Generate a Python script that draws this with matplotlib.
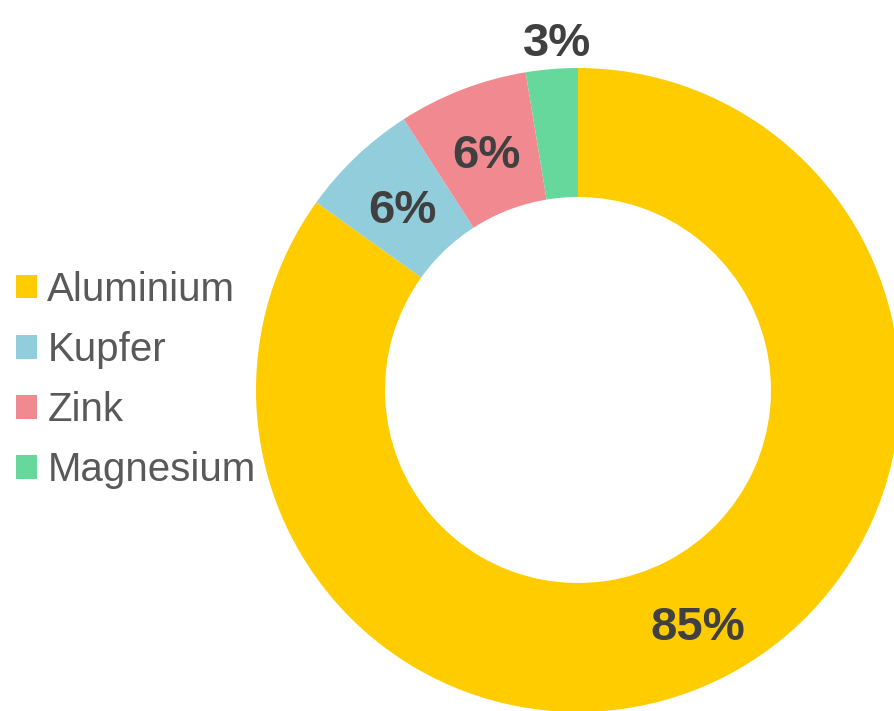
import numpy as np
import matplotlib.pyplot as plt
from matplotlib.patches import Patch

plt.rcParams['font.family'] = ['Liberation Sans', 'DejaVu Sans']

categories = ["Aluminium", "Kupfer", "Zink", "Magnesium"]
values = [84.9, 6.0, 6.5, 2.6]
value_labels = ["85%", "6%", "6%", "3%"]
colors = ["#FFCC00", "#92CDDC", "#F08A90", "#66D89C"]

fig = plt.figure(figsize=(8.94, 7.11), dpi=100)
ax = fig.add_axes([0, 0, 1, 1])

# pixel-like data coordinates so the ring can run off the canvas like the original
R = 322
cx, cy = 578, 711 - 390
wedges, _ = ax.pie(values, colors=colors, startangle=90, counterclock=False,
                   radius=R, center=(cx, cy),
                   wedgeprops=dict(width=R - 193, linewidth=0))
ax.set_xlim(0, 894)
ax.set_ylim(0, 711)
ax.set_aspect("equal")
ax.axis("off")

# label distances (fraction of radius); the small slice gets its label outside
dists = [0.815, 0.79, 0.795, 1.093]
nudge_x = [0, 0, 0, 8]
fs = 34
cap_half = 0.716 * fs * 100 / 72 / 2
for w, lab, d, nx in zip(wedges, value_labels, dists, nudge_x):
    ang = np.deg2rad((w.theta1 + w.theta2) / 2)
    ax.text(cx + d * R * np.cos(ang) + nx, cy + d * R * np.sin(ang) - cap_half,
            lab, ha="center", va="baseline", fontsize=fs, fontweight="bold",
            color="#404040")

handles = [Patch(facecolor=c, edgecolor="none") for c in colors]
leg = fig.legend(handles, categories, loc="center left",
                 bbox_to_anchor=(16 / 894, 0.5 - (380 - 355.5) / 711),
                 frameon=False, fontsize=29, handlelength=0.53,
                 handleheight=0.53, handletextpad=0.25, labelspacing=0.55,
                 borderaxespad=0, borderpad=0)
for t in leg.get_texts():
    t.set_color("#595959")

fig.savefig("out.png", dpi=100)
